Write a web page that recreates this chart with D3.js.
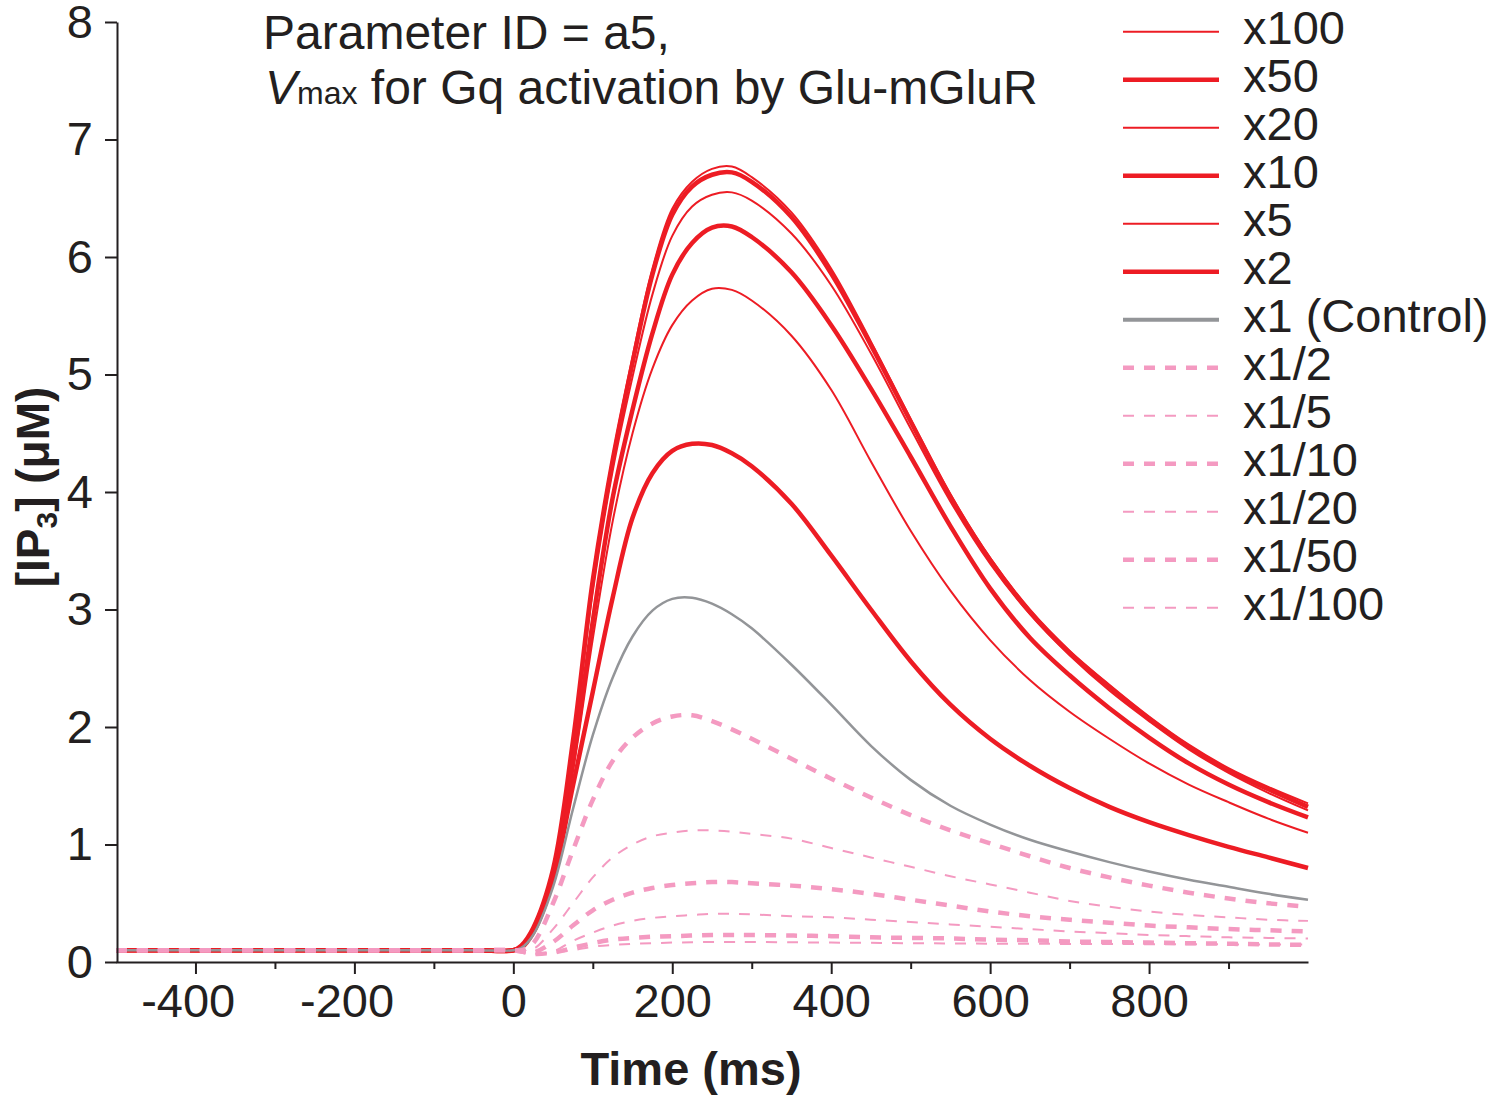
<!DOCTYPE html>
<html lang="en">
<head>
<meta charset="UTF-8">
<title>IP3 time course, parameter a5</title>
<script src="https://d3js.org/d3.v7.min.js"></script>
<style>
  body { margin: 0; background: #fff; }
  svg { display: block; background: #fff; }
  text { font-family: Arial, "Liberation Sans", Helvetica, sans-serif; fill: #231f20; }
  .axis path, .axis line { stroke: #231f20; stroke-width: 2; }
</style>
</head>
<body>
<script>
// time points (ms)
const times = [-500, -250, -50, 0, 10, 25, 50, 75, 100, 125, 150, 175, 200, 225, 250, 275, 300,
               350, 400, 450, 500, 550, 600, 650, 700, 750, 800, 850, 900, 950, 1000];

// [IP3] (uM) for each scaling of Vmax
const x100   = [0.1, 0.1, 0.1, 0.1, 0.14, 0.30, 0.80, 1.90, 3.28, 4.30, 5.15, 5.90, 6.41, 6.64, 6.75, 6.77, 6.68, 6.38, 5.90, 5.28, 4.62, 3.98, 3.44, 3.00, 2.65, 2.36, 2.09, 1.85, 1.65, 1.49, 1.35];
const x50    = [0.1, 0.1, 0.1, 0.1, 0.14, 0.29, 0.79, 1.88, 3.25, 4.27, 5.10, 5.85, 6.36, 6.60, 6.70, 6.72, 6.64, 6.34, 5.86, 5.25, 4.60, 3.96, 3.42, 2.98, 2.63, 2.34, 2.07, 1.83, 1.63, 1.47, 1.32];
const x20    = [0.1, 0.1, 0.1, 0.1, 0.13, 0.28, 0.76, 1.82, 3.15, 4.18, 4.98, 5.68, 6.18, 6.43, 6.53, 6.55, 6.48, 6.20, 5.76, 5.18, 4.54, 3.92, 3.39, 2.96, 2.61, 2.31, 2.05, 1.81, 1.61, 1.44, 1.29];
const x10    = [0.1, 0.1, 0.1, 0.1, 0.13, 0.27, 0.74, 1.70, 2.90, 3.95, 4.70, 5.35, 5.85, 6.12, 6.25, 6.26, 6.17, 5.87, 5.42, 4.88, 4.30, 3.71, 3.18, 2.76, 2.44, 2.16, 1.91, 1.69, 1.51, 1.36, 1.23];
const x5     = [0.1, 0.1, 0.1, 0.1, 0.13, 0.26, 0.72, 1.62, 2.75, 3.75, 4.50, 5.05, 5.42, 5.63, 5.73, 5.72, 5.63, 5.33, 4.87, 4.26, 3.67, 3.16, 2.74, 2.40, 2.13, 1.90, 1.69, 1.51, 1.36, 1.22, 1.10];
const x2     = [0.1, 0.1, 0.1, 0.1, 0.12, 0.25, 0.70, 1.50, 2.30, 3.10, 3.78, 4.16, 4.35, 4.41, 4.40, 4.33, 4.22, 3.90, 3.46, 3.00, 2.56, 2.19, 1.90, 1.67, 1.48, 1.32, 1.19, 1.08, 0.98, 0.89, 0.80];
const x1     = [0.1, 0.1, 0.1, 0.1, 0.12, 0.23, 0.64, 1.30, 1.93, 2.42, 2.77, 2.99, 3.09, 3.10, 3.05, 2.96, 2.84, 2.53, 2.19, 1.84, 1.55, 1.33, 1.17, 1.04, 0.94, 0.85, 0.77, 0.70, 0.64, 0.58, 0.53];
const x1_2   = [0.1, 0.1, 0.1, 0.1, 0.10, 0.16, 0.50, 0.95, 1.38, 1.71, 1.91, 2.03, 2.09, 2.10, 2.05, 1.98, 1.90, 1.73, 1.56, 1.40, 1.25, 1.12, 1.01, 0.90, 0.80, 0.72, 0.65, 0.59, 0.54, 0.50, 0.47];
const x1_5   = [0.1, 0.1, 0.1, 0.1, 0.10, 0.11, 0.28, 0.50, 0.72, 0.89, 1.00, 1.07, 1.10, 1.12, 1.12, 1.11, 1.09, 1.05, 0.97, 0.89, 0.81, 0.73, 0.66, 0.59, 0.52, 0.47, 0.43, 0.40, 0.38, 0.36, 0.35];
const x1_10  = [0.1, 0.1, 0.1, 0.1, 0.09, 0.08, 0.17, 0.31, 0.44, 0.53, 0.59, 0.63, 0.655, 0.67, 0.68, 0.68, 0.67, 0.65, 0.62, 0.58, 0.53, 0.48, 0.43, 0.39, 0.36, 0.335, 0.31, 0.295, 0.28, 0.27, 0.26];
const x1_20  = [0.1, 0.1, 0.1, 0.1, 0.09, 0.07, 0.09, 0.18, 0.25, 0.31, 0.35, 0.375, 0.39, 0.40, 0.41, 0.41, 0.405, 0.39, 0.38, 0.36, 0.34, 0.32, 0.30, 0.28, 0.26, 0.245, 0.23, 0.22, 0.21, 0.205, 0.20];
const x1_50  = [0.1, 0.1, 0.1, 0.1, 0.09, 0.07, 0.08, 0.12, 0.16, 0.19, 0.205, 0.215, 0.22, 0.225, 0.23, 0.23, 0.23, 0.225, 0.22, 0.21, 0.205, 0.20, 0.19, 0.185, 0.175, 0.17, 0.165, 0.16, 0.155, 0.15, 0.145];
const x1_100 = [0.1, 0.1, 0.1, 0.1, 0.09, 0.07, 0.08, 0.10, 0.13, 0.145, 0.155, 0.16, 0.165, 0.168, 0.17, 0.17, 0.17, 0.168, 0.165, 0.163, 0.16, 0.158, 0.156, 0.155, 0.154, 0.153, 0.152, 0.151, 0.15, 0.15, 0.15];

const seriesValues = [x100, x50, x20, x10, x5, x2, x1, x1_2, x1_5, x1_10, x1_20, x1_50, x1_100];
const seriesLabels = ['x100', 'x50', 'x20', 'x10', 'x5', 'x2', 'x1 (Control)',
                      'x1/2', 'x1/5', 'x1/10', 'x1/20', 'x1/50', 'x1/100'];

const xMajorTicks = [-400, -200, 0, 200, 400, 600, 800];
const xMinorTicks = [-300, -100, 100, 300, 500, 700, 900];
const yTicks = [0, 1, 2, 3, 4, 5, 6, 7, 8];

// styles
const red = '#ed1c24', pink = '#f49ac1', grey = '#939598';
const styles = [
    {color: red, width: 2},
    {color: red, width: 4.5},
    {color: red, width: 2},
    {color: red, width: 4.5},
    {color: red, width: 2},
    {color: red, width: 4.5},
    {color: grey, width: 2.5, legendWidth: 4},
    {color: pink, width: 4.5, dash: '11,10'},
    {color: pink, width: 2, dash: '11,10'},
    {color: pink, width: 4.5, dash: '11,10'},
    {color: pink, width: 2, dash: '11,10'},
    {color: pink, width: 4.5, dash: '11,10'},
    {color: pink, width: 2, dash: '11,10'}
];
const fontSize = 47;

const width = 1490, height = 1099;
const svg = d3.select('body').append('svg')
    .attr('width', width)
    .attr('height', height);

const x = d3.scaleLinear().domain([-500, 1000]).range([116, 1308]);
const y = d3.scaleLinear().domain([0, 8]).range([962, 22]);

const line = d3.line()
    .x((d, i) => x(times[i]))
    .y(d => y(d))
    .curve(d3.curveCatmullRom.alpha(0.5));

// curves: red first, pink dashed on top
svg.append('g').selectAll('path')
    .data(seriesValues)
    .join('path')
    .attr('d', d => line(d))
    .attr('fill', 'none')
    .attr('stroke', (d, i) => styles[i].color)
    .attr('stroke-width', (d, i) => styles[i].width)
    .attr('stroke-dasharray', (d, i) => styles[i].dash || null)
    .attr('stroke-linejoin', 'round');

// axes
const xAxis = svg.append('g')
    .attr('class', 'axis')
    .attr('transform', `translate(0,${y(0)})`)
    .call(d3.axisBottom(x).tickValues(xMajorTicks).tickSize(12).tickSizeOuter(0).tickPadding(10).tickFormat(d => String(d)));
xAxis.selectAll('text')
    .attr('font-size', fontSize)
    .attr('dy', '0.71em')
    .attr('dx', d => d < 0 ? -7.8 : 0)
    .style('fill', '#231f20');

svg.append('g')
    .attr('class', 'axis')
    .attr('transform', `translate(0,${y(0)})`)
    .call(d3.axisBottom(x).tickValues(xMinorTicks).tickSize(7).tickSizeOuter(0).tickFormat(''))
    .select('.domain').remove();

const yAxis = svg.append('g')
    .attr('class', 'axis')
    .attr('transform', `translate(${x(-500) + 1},0)`)
    .call(d3.axisLeft(y).tickValues(yTicks).tickSize(12).tickSizeOuter(0).tickPadding(12));
yAxis.selectAll('text')
    .attr('font-size', fontSize)
    .style('fill', '#231f20');

// axis titles
svg.append('text')
    .attr('x', 691)
    .attr('y', 1085)
    .attr('text-anchor', 'middle')
    .attr('font-size', fontSize)
    .attr('font-weight', 'bold')
    .text('Time (ms)');

const yTitle = svg.append('text')
    .attr('transform', 'translate(49,487) rotate(-90)')
    .attr('text-anchor', 'middle')
    .attr('font-size', 46)
    .attr('font-weight', 'bold');
yTitle.append('tspan').text('[IP');
yTitle.append('tspan').attr('font-size', 30).attr('dy', 8).text('3');
yTitle.append('tspan').attr('dy', -8).text('] (μM)');

// title
svg.append('text')
    .attr('x', 263)
    .attr('y', 49)
    .attr('font-size', 48)
    .text('Parameter ID = a5,');
const t2 = svg.append('text')
    .attr('x', 265)
    .attr('y', 104)
    .attr('font-size', 48);
t2.append('tspan').attr('font-style', 'italic').text('V');
t2.append('tspan').attr('font-size', 32).text('max');
t2.append('tspan').text(' for Gq activation by Glu-mGluR');

// legend
const legend = svg.append('g');
const rowY = i => 31.7 + 48 * i;
legend.selectAll('line')
    .data(seriesLabels)
    .join('line')
    .attr('x1', 1123)
    .attr('x2', 1219)
    .attr('y1', (d, i) => rowY(i))
    .attr('y2', (d, i) => rowY(i))
    .attr('stroke', (d, i) => styles[i].color)
    .attr('stroke-width', (d, i) => styles[i].legendWidth || styles[i].width)
    .attr('stroke-dasharray', (d, i) => styles[i].dash || null);
legend.selectAll('text')
    .data(seriesLabels)
    .join('text')
    .attr('x', 1243)
    .attr('y', (d, i) => rowY(i) + 12.7)
    .attr('font-size', fontSize)
    .text(d => d);
</script>
</body>
</html>
